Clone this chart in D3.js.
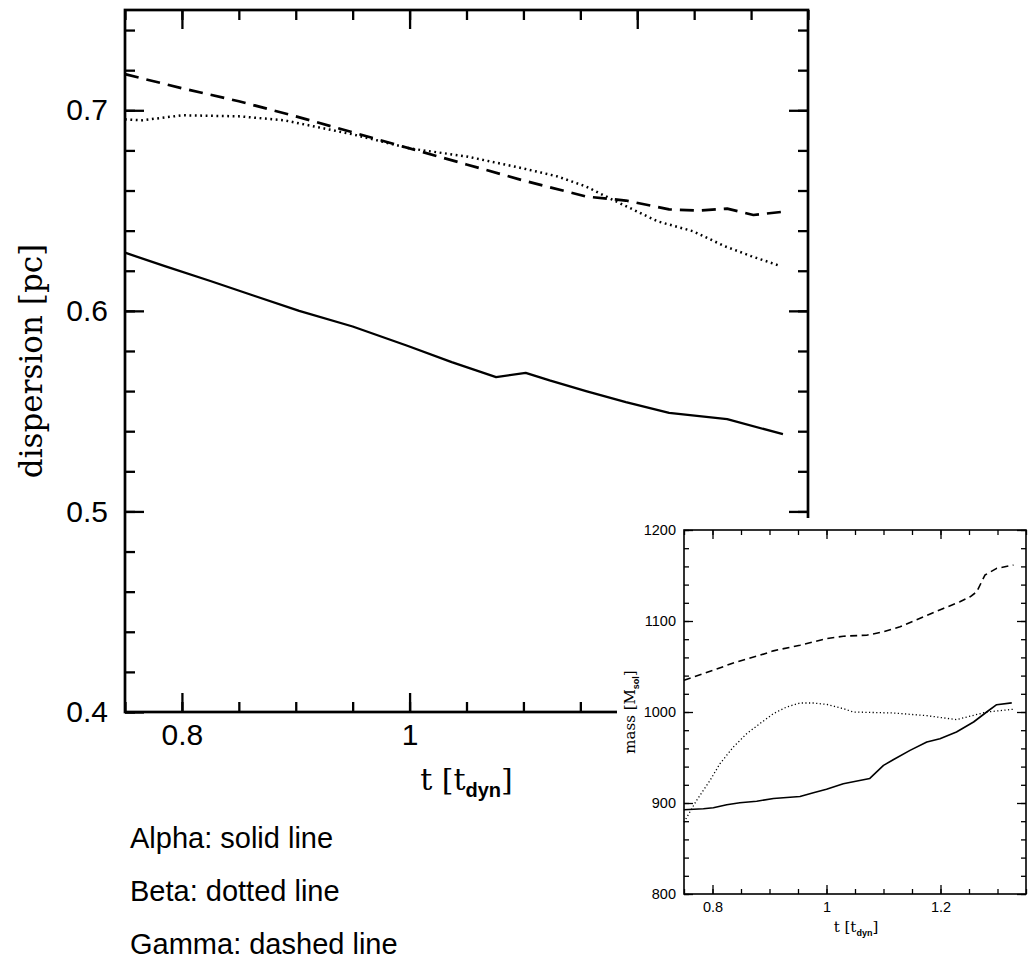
<!DOCTYPE html>
<html>
<head>
<meta charset="utf-8">
<script src="https://cdn.jsdelivr.net/npm/d3@7"></script>
<style>
  html, body { margin: 0; padding: 0; background: #fff; }
  svg { display: block; }
</style>
</head>
<body>
<svg id="chart" width="1030" height="977"></svg>
<script>
// ---- dispersion vs time (main panel) ----
const alphaT = [0.75, 0.785, 0.825, 0.864, 0.903, 0.950, 0.998, 1.037, 1.076, 1.102, 1.123, 1.155, 1.190, 1.228, 1.279, 1.328];
const alphaDisp = [0.629, 0.6223, 0.6149, 0.6074, 0.600, 0.5922, 0.5826, 0.5744, 0.567, 0.5691, 0.5653, 0.560, 0.5545, 0.5491, 0.546, 0.5385];

const betaT = [0.75, 0.765, 0.80, 0.85, 0.89, 0.95, 1.00, 1.05, 1.10, 1.13, 1.155, 1.178, 1.218, 1.249, 1.277, 1.30, 1.326];
const betaDisp = [0.6955, 0.695, 0.6975, 0.697, 0.695, 0.688, 0.681, 0.677, 0.671, 0.667, 0.662, 0.6555, 0.6446, 0.6397, 0.6322, 0.6273, 0.6223];

const gammaT = [0.75, 0.80, 0.85, 0.90, 0.95, 1.00, 1.05, 1.10, 1.155, 1.19, 1.228, 1.253, 1.279, 1.302, 1.328];
const gammaDisp = [0.718, 0.711, 0.7045, 0.697, 0.689, 0.681, 0.673, 0.665, 0.657, 0.655, 0.6506, 0.650, 0.651, 0.6478, 0.6494];

const mainXTicks = [0.8, 1, 1.2];
const mainXTickLabels = ["0.8", "1", "1.2"];
const mainYTicks = [0.4, 0.5, 0.6, 0.7];
const mainYTickLabels = ["0.4", "0.5", "0.6", "0.7"];

// ---- mass vs time (inset panel) ----
const alphaMassT = [0.75, 0.784, 0.8015, 0.825, 0.848, 0.8775, 0.907, 0.9535, 0.977, 1.000, 1.0295, 1.047, 1.076, 1.100, 1.117, 1.1465, 1.176, 1.199, 1.228, 1.258, 1.281, 1.2985, 1.325];
const alphaMass = [892.5, 893.6, 894.7, 898, 900.2, 902, 905, 907.2, 911.2, 915.2, 921.1, 923.3, 927, 941.3, 947.5, 957.8, 967, 970.6, 978, 989, 1000, 1008, 1010];

const betaMassT = [0.75, 0.772, 0.7956, 0.813, 0.8365, 0.8599, 0.8775, 0.9067, 0.930, 0.9535, 0.977, 1.000, 1.0295, 1.047, 1.117, 1.176, 1.228, 1.281, 1.328];
const betaMass = [879, 902.8, 924.8, 943.1, 961.5, 976.1, 984.6, 998.2, 1005.5, 1009.9, 1009.9, 1008.4, 1003.7, 1000, 998.9, 996, 991.6, 1000, 1003];

const gammaMassT = [0.75, 0.8015, 0.8365, 0.8833, 0.9067, 0.9535, 1.000, 1.0295, 1.0705, 1.100, 1.129, 1.170, 1.205, 1.234, 1.252, 1.2635, 1.278, 1.2985, 1.328];
const gammaMass = [1034.9, 1045.9, 1053.9, 1062.4, 1067.2, 1073.4, 1080.7, 1083.3, 1084.4, 1088.1, 1093.6, 1104.6, 1113.8, 1121.1, 1126.6, 1132.1, 1150.5, 1157.8, 1161.5];

const insetXTicks = [0.8, 1, 1.2];
const insetXTickLabels = ["0.8", "1", "1.2"];
const insetYTicks = [800, 900, 1000, 1100, 1200];
const insetYTickLabels = ["800", "900", "1000", "1100", "1200"];

const legendLines = ["Alpha: solid line", "Beta: dotted line", "Gamma: dashed line"];

// ---------------------------------------------------------------
const svg = d3.select("#chart");
const SANS = "'Liberation Sans', Arial, Helvetica, sans-serif";
const SERIF = "'DejaVu Serif', 'Liberation Serif', serif";

function zip(ts, vs) { return ts.map((t, i) => [t, vs[i]]); }

function range(a, b, step) {
  const out = [];
  for (let v = a; v <= b + step * 1e-6; v += step) out.push(+v.toFixed(6));
  return out;
}

// Boxed frame with inward ticks on all four sides; labels on bottom and left.
function frame(g, x, y, opt) {
  const [x0, x1] = x.range();
  const [y0, y1] = y.range(); // y0 bottom, y1 top
  const minorX = range(x.domain()[0], x.domain()[1], opt.xMinorStep);
  const minorY = range(y.domain()[0], y.domain()[1], opt.yMinorStep);
  const sides = [
    { ax: d3.axisBottom, tr: `translate(0,${y0})`, sc: x, minor: minorX, major: opt.xMajor, labels: opt.xLabels, pad: opt.xPad },
    { ax: d3.axisTop,    tr: `translate(0,${y1})`, sc: x, minor: minorX, major: opt.xMajor, labels: null, pad: 0 },
    { ax: d3.axisLeft,   tr: `translate(${x0},0)`, sc: y, minor: minorY, major: opt.yMajor, labels: opt.yLabels, pad: opt.yPad },
    { ax: d3.axisRight,  tr: `translate(${x1},0)`, sc: y, minor: minorY, major: opt.yMajor, labels: null, pad: 0 }
  ];
  sides.forEach(s => {
    const gm = g.append("g").attr("transform", s.tr)
      .call(s.ax(s.sc).tickValues(s.minor).tickSizeInner(-opt.minorLen).tickSizeOuter(0).tickFormat(""));
    gm.select(".domain").remove();
    gm.selectAll("line").attr("stroke", "#000").attr("stroke-width", opt.tickWidth);

    const gM = g.append("g").attr("transform", s.tr)
      .call(s.ax(s.sc).tickValues(s.major).tickSizeInner(-opt.majorLen).tickSizeOuter(0)
        .tickPadding(s.pad)
        .tickFormat((d, i) => s.labels ? s.labels[i] : ""));
    gM.select(".domain").remove();
    gM.selectAll("line").attr("stroke", "#000").attr("stroke-width", opt.tickWidth);
    gM.selectAll("text").attr("font-family", SANS).attr("font-size", opt.fontSize).attr("fill", "#000");
  });
  g.append("rect")
    .attr("x", x0).attr("y", y1).attr("width", x1 - x0).attr("height", y0 - y1)
    .attr("fill", "none").attr("stroke", "#000").attr("stroke-width", opt.frameWidth);
}

function series(g, x, y, pts, width, dash) {
  g.append("path")
    .datum(pts)
    .attr("d", d3.line().x(d => x(d[0])).y(d => y(d[1])))
    .attr("fill", "none")
    .attr("stroke", "#000")
    .attr("stroke-width", width)
    .attr("stroke-linejoin", "round")
    .attr("stroke-dasharray", dash);
}

// ---- main panel ----
const mx = d3.scaleLinear().domain([0.75, 1.35]).range([125, 808]);
const my = d3.scaleLinear().domain([0.4, 0.75]).range([712, 10]);
const main = svg.append("g");

series(main, mx, my, zip(alphaT, alphaDisp), 2.3, null);
series(main, mx, my, zip(betaT, betaDisp), 2.5, "1.8,3.6");
series(main, mx, my, zip(gammaT, gammaDisp), 2.7, "14,8");

frame(main, mx, my, {
  xMinorStep: 0.05, yMinorStep: 0.02,
  xMajor: mainXTicks, yMajor: mainYTicks,
  xLabels: mainXTickLabels, yLabels: mainYTickLabels,
  minorLen: 10, majorLen: 19, tickWidth: 2.3, frameWidth: 2.7,
  xPad: 12, yPad: 17, fontSize: 30
});

// y axis title
main.append("text")
  .attr("transform", `translate(42,${(712 + 10) / 2}) rotate(-90)`)
  .attr("text-anchor", "middle")
  .attr("font-family", SERIF).attr("font-size", 31)
  .text("dispersion [pc]");

// x axis title: t [t_dyn]
const mxt = main.append("text")
  .attr("x", (125 + 808) / 2).attr("y", 790)
  .attr("text-anchor", "middle")
  .attr("font-family", SERIF).attr("font-size", 30);
mxt.append("tspan").text("t  [t");
mxt.append("tspan").attr("font-family", SANS).attr("font-weight", "bold")
  .attr("font-size", 20).attr("dy", 7).text("dyn");
mxt.append("tspan").attr("dy", -7).text("]");

// ---- inset panel ----
svg.append("rect")
  .attr("x", 617).attr("y", 518).attr("width", 1030 - 617).attr("height", 977 - 518)
  .attr("fill", "#fff");

const ix = d3.scaleLinear().domain([0.75, 1.35]).range([684, 1026]);
const iy = d3.scaleLinear().domain([800, 1200]).range([894, 530]);
const inset = svg.append("g");

series(inset, ix, iy, zip(alphaMassT, alphaMass), 1.6, null);
series(inset, ix, iy, zip(betaMassT, betaMass), 1.3, "1.2,2.4");
series(inset, ix, iy, zip(gammaMassT, gammaMass), 1.6, "7,4.5");

frame(inset, ix, iy, {
  xMinorStep: 0.05, yMinorStep: 20,
  xMajor: insetXTicks, yMajor: insetYTicks,
  xLabels: insetXTickLabels, yLabels: insetYTickLabels,
  minorLen: 5, majorLen: 9, tickWidth: 1.3, frameWidth: 1.6,
  xPad: 8, yPad: 8, fontSize: 14.5
});

inset.append("text")
  .attr("transform", `translate(635,${(894 + 530) / 2}) rotate(-90)`)
  .attr("text-anchor", "middle")
  .attr("font-family", SERIF).attr("font-size", 15)
  .call(t => {
    t.append("tspan").text("mass [M");
    t.append("tspan").attr("font-family", SANS).attr("font-weight", "bold")
      .attr("font-size", 9).attr("dy", 4).text("sol");
    t.append("tspan").attr("dy", -4).text("]");
  });

inset.append("text")
  .attr("x", 856).attr("y", 932)
  .attr("text-anchor", "middle")
  .attr("font-family", SERIF).attr("font-size", 15)
  .call(t => {
    t.append("tspan").text("t  [t");
    t.append("tspan").attr("font-family", SANS).attr("font-weight", "bold")
      .attr("font-size", 9).attr("dy", 4).text("dyn");
    t.append("tspan").attr("dy", -4).text("]");
  });

// ---- legend text ----
svg.append("g").selectAll("text")
  .data(legendLines)
  .join("text")
  .attr("x", 130)
  .attr("y", (d, i) => 848 + i * 53)
  .attr("font-family", SANS)
  .attr("font-size", 29)
  .attr("fill", "#000")
  .text(d => d);
</script>
</body>
</html>
